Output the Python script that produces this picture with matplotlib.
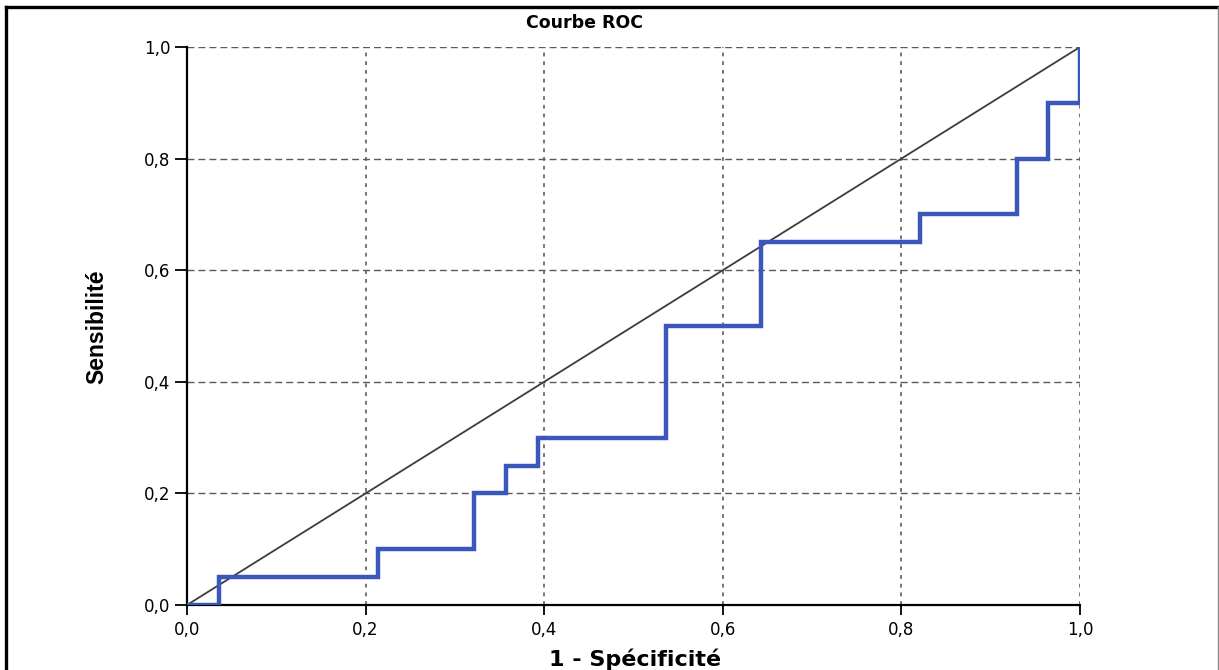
import matplotlib.pyplot as plt
from matplotlib.lines import Line2D
from matplotlib.ticker import FuncFormatter

# Points de la courbe ROC (coins de l'escalier)
fpr = [0.0, 0.036, 0.036, 0.214, 0.214, 0.321, 0.321, 0.357, 0.357, 0.393, 0.393,
       0.536, 0.536, 0.643, 0.643, 0.821, 0.821, 0.929, 0.929, 0.964, 0.964, 1.0, 1.0]
tpr = [0.0, 0.0, 0.05, 0.05, 0.10, 0.10, 0.20, 0.20, 0.25, 0.25, 0.30,
       0.30, 0.50, 0.50, 0.65, 0.65, 0.70, 0.70, 0.80, 0.80, 0.90, 0.90, 1.0]
ref = [0.0, 1.0]
ticks = [0.0, 0.2, 0.4, 0.6, 0.8, 1.0]

plt.rcParams['font.family'] = ['DejaVu Sans']

W, H = 1219, 670
fig = plt.figure(figsize=(W / 100, H / 100), dpi=100)
ax = fig.add_axes([187 / W, 1 - 605 / H, 893 / W, 558 / H])

# cadre autour de la figure
fig.lines.append(Line2D([6 / W, 6 / W], [0, 1 - 7 / H], transform=fig.transFigure,
                        color='black', lw=2.4))
fig.lines.append(Line2D([6 / W, 1218 / W], [1 - 7 / H, 1 - 7 / H], transform=fig.transFigure,
                        color='black', lw=2.4))
fig.lines.append(Line2D([1217.5 / W, 1217.5 / W], [0, 1 - 7 / H], transform=fig.transFigure,
                        color='#888888', lw=1.0))

# grille
for t in ticks[1:]:
    ax.axvline(t, color='#505050', lw=1.1, linestyle=(0, (2.5, 3.2)), zorder=1)
    ax.axhline(t, color='#5a5a5a', lw=1.0, linestyle=(0, (5, 2.9)), zorder=1)

ax.plot(ref, ref, color='#3c3c3c', lw=1.3, zorder=2)
ax.plot(fpr, tpr, color='#3a58bc', lw=3.2, zorder=3, solid_joinstyle='miter')

ax.set_xlim(0, 1)
ax.set_ylim(0, 1)
ax.set_xticks(ticks)
ax.set_yticks(ticks)
fmt = FuncFormatter(lambda v, p: f"{v:.1f}".replace('.', ','))
ax.xaxis.set_major_formatter(fmt)
ax.yaxis.set_major_formatter(fmt)
ax.tick_params(direction='out', width=1.3, labelsize=12, colors='black')
ax.tick_params(axis='x', length=7, pad=4.5)
ax.tick_params(axis='y', length=8.5, pad=3.5)

for s in ['top', 'right']:
    ax.spines[s].set_visible(False)
for s in ['left', 'bottom']:
    ax.spines[s].set_linewidth(1.6)
ax.patch.set_visible(False)

fig.text(585 / W, 1 - 23 / H, 'Courbe ROC', ha='center', va='center',
         fontsize=12.5, fontweight='bold')
fig.text(635 / W, 1 - 659 / H, '1 - Spécificité', ha='center', va='center',
         fontsize=16, fontweight='bold')
fig.text(97 / W, 1 - 327 / H, 'Sensibilité', ha='center', va='center',
         rotation=90, fontsize=16.5, fontweight='bold',
         family=['Liberation Sans', 'DejaVu Sans'])

fig.savefig('out.png', dpi=100)
